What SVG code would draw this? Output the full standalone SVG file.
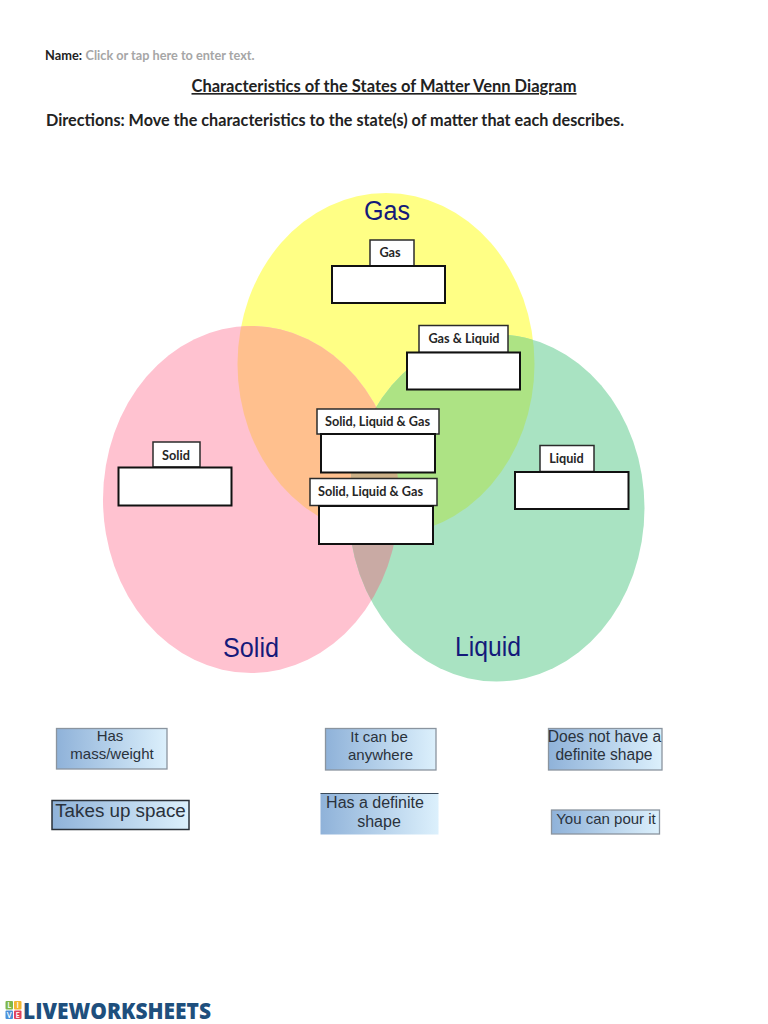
<svg xmlns="http://www.w3.org/2000/svg" width="768" height="1024" viewBox="0 0 768 1024">
<style>
text{font-family:"Lato","Open Sans","Liberation Sans",sans-serif;fill:#222}
.b{font-weight:700}
.lab{font-size:12.700px;font-weight:700;text-anchor:middle;fill:#262626}
.tag{fill:#fff;stroke:#2b2b2b;stroke-width:1.5}
.box{fill:#fff;stroke:#111;stroke-width:2}
.card{fill:url(#g);stroke:#8a949f;stroke-width:1.3}
.cardD{fill:url(#g);stroke:#2a3038;stroke-width:1.5}
.ct{font-family:"Liberation Sans",sans-serif;font-size:15px;text-anchor:middle;fill:#2a323c}
.vt{font-family:"Liberation Sans",sans-serif;font-size:27px;text-anchor:middle;fill:#141a7a}
.lg{font-size:7px;font-weight:700;text-anchor:middle;fill:#fff}
</style>
<defs>
<linearGradient id="g" x1="0" x2="1" y1="0" y2="0"><stop offset="0" stop-color="#8fb2d9"/><stop offset="1" stop-color="#dcf0fc"/></linearGradient>
<clipPath id="cG"><ellipse cx="386" cy="364" rx="148.500" ry="171"/></clipPath>
<clipPath id="cS"><ellipse cx="251" cy="499.500" rx="148" ry="173.500"/></clipPath>
</defs>
<rect width="768" height="1024" fill="#fff"/>
<g id="header">
<text x="45" y="60" font-size="13" class="b" textLength="37" lengthAdjust="spacingAndGlyphs">Name:</text>
<text x="85.500" y="60" font-size="13" font-weight="700" style="fill:#a6a6a6" textLength="169" lengthAdjust="spacingAndGlyphs">Click or tap here to enter text.</text>
<text id="title" x="191.500" y="92" font-size="16.500" class="b" text-decoration="underline" textLength="385" lengthAdjust="spacingAndGlyphs">Characteristics of the States of Matter Venn Diagram</text>
<text x="46" y="126" font-size="17.500" class="b" textLength="578" lengthAdjust="spacingAndGlyphs">Directions: Move the characteristics to the state(s) of matter that each describes.</text>
</g>
<g id="venn">
<ellipse id="gas-circle" cx="386" cy="364" rx="148.500" ry="171" fill="#ffff85"/>
<ellipse id="solid-circle" cx="251" cy="499.500" rx="148" ry="173.500" fill="#ffc2d0"/>
<ellipse id="liquid-circle" cx="496.500" cy="508" rx="148" ry="173.500" fill="#a9e3c2"/>
<g clip-path="url(#cG)"><ellipse cx="251" cy="499.500" rx="148" ry="173.500" fill="#ffc08e"/><ellipse cx="496.500" cy="508" rx="148" ry="173.500" fill="#ade384"/></g>
<g clip-path="url(#cS)"><ellipse cx="496.500" cy="508" rx="148" ry="173.500" fill="#c9aaa4"/><g clip-path="url(#cG)"><ellipse cx="496.500" cy="508" rx="148" ry="173.500" fill="#cdb187"/></g></g>
<text class="vt" x="387" y="220" textLength="46" lengthAdjust="spacingAndGlyphs">Gas</text>
<text class="vt" x="251" y="657" textLength="56" lengthAdjust="spacingAndGlyphs">Solid</text>
<text class="vt" x="488" y="656" textLength="66" lengthAdjust="spacingAndGlyphs">Liquid</text>
</g>
<g id="node-gas"><rect class="tag" x="370" y="240" width="44" height="26"/><text class="lab" x="390" y="257">Gas</text><rect class="box" x="332" y="266" width="113" height="37"/></g>
<g id="node-gas-liquid"><rect class="tag" x="419" y="325.500" width="89" height="27"/><text class="lab" x="464" y="343">Gas &amp; Liquid</text><rect class="box" x="407" y="352.500" width="113" height="37"/></g>
<g id="node-all-1"><rect class="tag" x="317" y="409" width="122" height="25"/><text class="lab" x="377.500" y="426">Solid, Liquid &amp; Gas</text><rect class="box" x="321" y="434" width="114" height="38.500"/></g>
<g id="node-all-2"><rect class="tag" x="310" y="478.500" width="127" height="27"/><text class="lab" x="370.500" y="496">Solid, Liquid &amp; Gas</text><rect class="box" x="319" y="506" width="114" height="38"/></g>
<g id="node-solid"><rect class="tag" x="153" y="442" width="47" height="25"/><text class="lab" x="176" y="460">Solid</text><rect class="box" x="118.500" y="467.500" width="113" height="38"/></g>
<g id="node-liquid"><rect class="tag" x="540" y="445.500" width="54" height="26"/><text class="lab" x="566.500" y="463">Liquid</text><rect class="box" x="515" y="472" width="113.500" height="37"/></g>
<g id="card-mass"><rect class="card" x="56.500" y="728.500" width="110.500" height="40.500"/><text class="ct" x="110" y="741">Has</text><text class="ct" x="112" y="759">mass/weight</text></g>
<g id="card-anywhere"><rect class="card" x="325.500" y="728.500" width="110.500" height="41.500"/><text class="ct" x="379" y="742">It can be</text><text class="ct" x="380.500" y="760">anywhere</text></g>
<g id="card-shape-no"><rect class="card" x="548.500" y="728.500" width="113.500" height="41.500"/><text class="ct" style="font-size:15.600px" x="604.500" y="742">Does not have a</text><text class="ct" style="font-size:15.600px" x="604" y="760">definite shape</text></g>
<g id="card-space"><rect class="cardD" x="52" y="800.500" width="137" height="29"/><text class="ct" style="font-size:18.800px" x="120.500" y="817">Takes up space</text></g>
<g id="card-shape"><rect x="320.500" y="793.500" width="118" height="41" fill="url(#g)"/><line x1="320.500" y1="793.500" x2="438.500" y2="793.500" stroke="#3a4a5a"/><text class="ct" style="font-size:16px" x="375" y="808">Has a definite</text><text class="ct" style="font-size:16px" x="379" y="827">shape</text></g>
<g id="card-pour"><rect class="card" x="551.500" y="810" width="108" height="24"/><text class="ct" x="606" y="824">You can pour it</text></g>
<g id="logo">
<rect x="5.500" y="1001" width="7.500" height="8.500" rx="1" fill="#7fb84a"/><rect x="14" y="1001" width="7.500" height="8.500" rx="1" fill="#f2b632"/>
<rect x="5.500" y="1010.500" width="7.500" height="8.500" rx="1" fill="#4a90d9"/><rect x="14" y="1010.500" width="7.500" height="8.500" rx="1" fill="#e0435c"/>
<text class="lg" x="9.300" y="1008">L</text><text class="lg" x="17.800" y="1008">I</text><text class="lg" x="9.300" y="1017.500">V</text><text class="lg" x="17.800" y="1017.500">E</text>
<text x="23" y="1018.500" font-size="23" font-weight="900" style="fill:#1e4f7d;font-family:'Open Sans','Liberation Sans',sans-serif" textLength="188" lengthAdjust="spacingAndGlyphs">LIVEWORKSHEETS</text>
</g>
</svg>
